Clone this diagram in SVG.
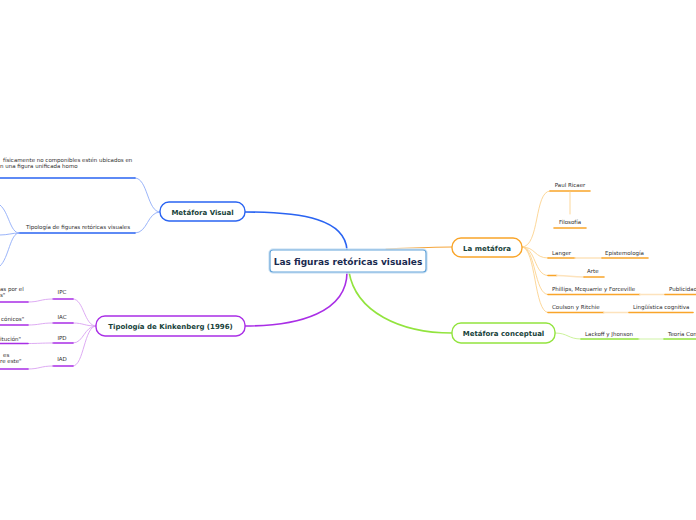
<svg xmlns="http://www.w3.org/2000/svg" width="696" height="520" viewBox="0 0 696 520">
<style>
.lbl{font-family:"DejaVu Sans",Verdana,sans-serif;font-size:5.5px;fill:#2e2e2e}
.nt{font-family:"DejaVu Sans",Verdana,sans-serif;font-size:7px;font-weight:bold;fill:#17423a;text-anchor:middle}
.ct{font-family:"DejaVu Sans",Verdana,sans-serif;font-size:9px;font-weight:bold;fill:#1a2a50;text-anchor:middle}
.c{fill:none;stroke-linecap:round}
.bl{stroke:#2a64f2;stroke-width:1.6}
.bll{stroke:#8eabf8;stroke-width:0.9}
.pu{stroke:#a92ee6;stroke-width:1.6}
.pul{stroke:#d9a2f2;stroke-width:0.9}
.or{stroke:#f9a52a;stroke-width:1.6}
.orl{stroke:#fcd28e;stroke-width:0.9}
.orx{stroke:#fde3bd;stroke-width:1.6}
.gr{stroke:#92e43e;stroke-width:1.6}
.grl{stroke:#c5f08f;stroke-width:0.9}
.grx{stroke:#dff7c4;stroke-width:1.6}
.node{fill:#ffffff;stroke-width:1.4}
</style>
<rect width="696" height="520" fill="#ffffff"/>
<g id="connectors">
  <path class="c bl" d="M245,212 C305,212 345,220 347,250"/>
  <path class="c pu" d="M347,272 C347,312 300,326 245,326"/>
  <path class="c" stroke="#f5a53a" stroke-width="1.1" d="M386,249 C410,248 430,247 452,247"/>
  <path class="c gr" stroke-width="1.3" d="M349,272 C356,312 400,333 452,333"/>
  <path class="c bll" d="M160,212 C147,212 148,178 135,178"/>
  <path class="c bl" d="M135,178 L0,178"/>
  <path class="c bll" d="M160,212 C147,212 148,233 135,233"/>
  <path class="c bl" d="M135,233 L19,233"/>
  <path class="c bll" d="M19,233 C10,233 9,212 0,205"/>
  <path class="c bll" d="M19,233 C12,233 8,235 0,235"/>
  <path class="c bll" d="M19,233 C10,233 9,258 0,266"/>
  <path class="c pul" d="M96,326 C84,326 84,299 73,299"/>
  <path class="c pul" d="M96,326 C84,326 84,323 73,323"/>
  <path class="c pul" d="M96,326 C84,326 84,343 73,343"/>
  <path class="c pul" d="M96,326 C84,326 84,366 73,366"/>
  <path class="c pu" d="M53,299 L73,299"/>
  <path class="c pu" d="M53,323 L73,323"/>
  <path class="c pu" d="M53,343 L73,343"/>
  <path class="c pu" d="M53,366 L73,366"/>
  <path class="c pul" d="M53,299 C40,299 40,302 28,302"/>
  <path class="c pul" d="M53,323 C40,323 40,325 28,325"/>
  <path class="c pul" d="M53,343 C40,343 40,343.5 28,343.5"/>
  <path class="c pul" d="M53,366 C40,366 40,369 28,369"/>
  <path class="c pu" d="M0,302 L28,302"/>
  <path class="c pu" d="M0,325 L28,325"/>
  <path class="c pu" d="M0,343.5 L28,343.5"/>
  <path class="c pu" d="M0,369 L28,369"/>
  <path class="c orl" d="M522,247 C540,247 534,191 550,191"/>
  <path class="c or" d="M550,191 L590,191"/>
  <path class="c orl" d="M570,192 L570,214"/>
  <path class="c or" d="M554,228 L586,228"/>
  <path class="c orl" d="M522,247 C536,247 534,258 548,258"/>
  <path class="c or" d="M548,258 L575,258"/>
  <path class="c orx" d="M575,258 L602,258"/>
  <path class="c or" d="M602,258 L648,258"/>
  <path class="c orl" d="M522,247 C536,247 534,275.5 548,275.5"/>
  <path class="c or" d="M548,275.5 L557,275.5"/>
  <path class="c orx" d="M557,275.5 C570,275.5 570,277 584,277"/>
  <path class="c or" d="M584,277 L604,277"/>
  <path class="c orl" d="M522,247 C536,247 534,294.5 548,294.5"/>
  <path class="c or" d="M548,294.5 L640,294.5"/>
  <path class="c orx" d="M640,294.5 L665,294.5"/>
  <path class="c or" d="M665,294.5 L696,294.5"/>
  <path class="c orl" d="M522,247 C536,247 534,312.5 548,312.5"/>
  <path class="c or" d="M548,312.5 L604,312.5"/>
  <path class="c orx" d="M604,312.5 L629,312.5"/>
  <path class="c or" d="M629,312.5 L693,312.5"/>
  <path class="c grl" d="M555,333 C568,333 568,339 581,339"/>
  <path class="c gr" d="M581,339 L639,339"/>
  <path class="c grx" d="M639,339 L664,339"/>
  <path class="c gr" d="M664,339 L696,339"/>
</g>
<g id="central">
  <rect x="269" y="249" width="158" height="24" rx="4" fill="none" stroke="#d6e8f6" stroke-width="1.5"/>
  <rect x="270" y="250" width="156" height="22" rx="3" fill="#ffffff" stroke="#62a3d9" stroke-width="1.2"/>
  <text class="ct" x="348" y="264.5">Las figuras retóricas visuales</text>
</g>
<g id="metafora-visual">
  <rect class="node" x="160" y="202" width="85" height="19" rx="9" stroke="#2a64f2"/>
  <text class="nt" x="202.5" y="214.5">Metáfora Visual</text>
</g>
<g id="mv-child-1">
  <text class="lbl" x="3" y="162">físicamente no componibles estén ubicados en</text>
  <text class="lbl" x="0" y="168">n una figura unificada homo</text>
</g>
<g id="mv-child-2">
  <text class="lbl" x="26" y="229">Tipología de figuras retóricas visuales</text>
</g>
<g id="kinkenberg">
  <rect class="node" x="96" y="316" width="149" height="20" rx="9" stroke="#a92ee6"/>
  <text class="nt" x="170.5" y="329">Tipología de Kinkenberg (1996)</text>
</g>
<g id="ipc">
  <text class="lbl" x="62" y="294" text-anchor="middle">IPC</text>
  <text class="lbl" x="0" y="290.5">as por el</text>
  <text class="lbl" x="0" y="296.5">s"</text>
</g>
<g id="iac">
  <text class="lbl" x="62" y="319" text-anchor="middle">IAC</text>
  <text class="lbl" x="1" y="321">cónicos"</text>
</g>
<g id="ipd">
  <text class="lbl" x="62" y="340" text-anchor="middle">IPD</text>
  <text class="lbl" x="0" y="341">itución"</text>
</g>
<g id="iad">
  <text class="lbl" x="62" y="361" text-anchor="middle">IAD</text>
  <text class="lbl" x="3" y="357">es</text>
  <text class="lbl" x="0" y="363">re este"</text>
</g>
<g id="la-metafora">
  <rect class="node" x="452" y="238" width="70" height="19" rx="9" stroke="#f9a52a"/>
  <text class="nt" x="487" y="250.5">La metáfora</text>
</g>
<g id="paul-ricaer"><text class="lbl" x="570" y="187" text-anchor="middle">Paul Ricaer</text></g>
<g id="filosofia"><text class="lbl" x="570" y="224" text-anchor="middle">Filosofía</text></g>
<g id="langer"><text class="lbl" x="552" y="255">Langer</text></g>
<g id="epistemologia"><text class="lbl" x="605" y="255">Epistemología</text></g>
<g id="arte"><text class="lbl" x="587" y="273">Arte</text></g>
<g id="phillips"><text class="lbl" x="552" y="291">Phillips, Mcquarrie y Forceville</text></g>
<g id="publicidad"><text class="lbl" x="669" y="291">Publicidad</text></g>
<g id="coulson"><text class="lbl" x="552" y="309">Coulson y Ritchie</text></g>
<g id="linguistica"><text class="lbl" x="633" y="309">Lingüística cognitiva</text></g>
<g id="metafora-conceptual">
  <rect class="node" x="452" y="323" width="103" height="20" rx="9" stroke="#92e43e"/>
  <text class="nt" x="503.5" y="336">Metáfora conceptual</text>
</g>
<g id="lackoff"><text class="lbl" x="585" y="335.5">Lackoff y Jhonson</text></g>
<g id="teoria"><text class="lbl" x="668" y="335.5">Teoría Con</text></g>
</svg>
